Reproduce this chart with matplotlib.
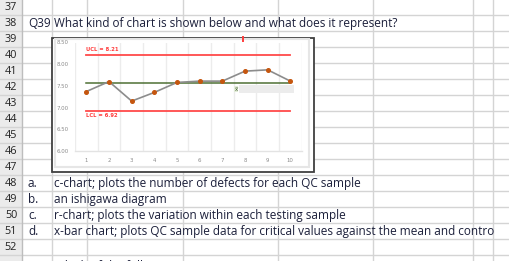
import matplotlib
matplotlib.use("Agg")
import matplotlib.pyplot as plt
from matplotlib.patches import Rectangle

# ---------------- data ----------------
row_numbers = [37, 38, 39, 40, 41, 42, 43, 44, 45, 46, 47, 48, 49, 50, 51, 52, 53]
question_label = "Q39"
question_text = "What kind of chart is shown below and what does it represent?"
next_label = "Q40"
next_text = "Which of the following"
option_labels = ["a.", "b.", "c.", "d."]
option_texts = [
    "c-chart; plots the number of defects for each QC sample",
    "an ishigawa diagram",
    "r-chart; plots the variation within each testing sample",
    "x-bar chart; plots QC sample data for critical values against the mean and contro",
]
samples = [1, 2, 3, 4, 5, 6, 7, 8, 9, 10]
xbar_values = [7.37, 7.60, 7.15, 7.35, 7.58, 7.61, 7.61, 7.84, 7.87, 7.61]
ucl = 8.21
lcl = 6.92
center_line = 7.565
y_ticks = [6.00, 6.50, 7.00, 7.50, 8.00, 8.50]

# ---------------- figure ----------------
W, H = 510, 261
fig = plt.figure(figsize=(W / 100, H / 100), dpi=100)
bg = fig.add_axes([0, 0, 1, 1])
bg.set_xlim(0, W)
bg.set_ylim(H, 0)
bg.axis("off")

grid_c = "#d4d4d4"
txt_c = "#1b1f3a"
font = ["Open Sans", "DejaVu Sans"]

row_bounds = [-0.5 + 15.97 * k for k in range(0, 18)]
col_bounds = [22, 52, 87, 183, 278, 373, 473, 493]

# header column
bg.add_patch(Rectangle((0, -1), 22, H + 2, facecolor="#ebebeb", edgecolor="none", zorder=0))
for y in row_bounds[1:]:
    bg.plot([0, W], [y, y], color=grid_c, lw=1, zorder=1)
for x in col_bounds:
    bg.plot([x, x], [0, H], color=grid_c if x != 22 else "#bdbdbd", lw=1, zorder=1)

def row_center(r):
    i = row_numbers.index(r)
    return (row_bounds[i] + row_bounds[i + 1]) / 2 + 0.5

# row numbers
for rn in row_numbers:
    yoff = 2.5 if rn == 53 else 0
    bg.text(11, row_center(rn) + yoff, str(rn), ha="center", va="center", fontsize=7.8,
            family=font, color="#222222", zorder=3, clip_on=True)

fs = 8.5
bg.text(28, row_center(38), question_label, ha="left", va="center", fontsize=fs, family=font, color=txt_c)
bg.text(54.5, row_center(38), question_text, ha="left", va="center", fontsize=fs, family=font, color=txt_c)
for k, (lab, t) in enumerate(zip(option_labels, option_texts)):
    r = 48 + k
    bg.text(28, row_center(r), lab, ha="left", va="center", fontsize=fs, family=font, color=txt_c, zorder=3)
    bg.text(54.5, row_center(r), t, ha="left", va="center", fontsize=fs, family=font, color=txt_c, zorder=3)
bg.text(28, row_center(53) + 2.5, next_label, ha="left", va="center", fontsize=fs, family=font, color=txt_c, clip_on=True)
bg.text(54.5, row_center(53) + 2.5, next_text, ha="left", va="center", fontsize=fs, family=font, color=txt_c, clip_on=True)

# chart object: white area, outer dark border, inner light frame
bg.add_patch(Rectangle((52, 37.5), 262, 134.5, facecolor="white", edgecolor="#404040", lw=1.3, zorder=4))
bg.add_patch(Rectangle((55.5, 39), 253.5, 128, facecolor="white", edgecolor="#e6e6e6", lw=1.5, zorder=4.1))
# small red mark on top edge
bg.plot([242.7, 242.7], [36.5, 40.5], color="#ff3b3b", lw=1.4, zorder=4.5)

# ---------------- plot area ----------------
left, right = 75, 301.7
top, bottom = 42.5, 151
ax = fig.add_axes([left / W, (H - bottom) / H, (right - left) / W, (bottom - top) / H], zorder=5)
ax.set_facecolor("none")
ax.set_xlim(0.5, 10.5)
ax.set_ylim(6.0, 8.5)

for xb in [s - 0.5 for s in samples] + [samples[-1] + 0.5]:
    ax.axvline(xb, color="#ececec", lw=1.0, zorder=1)

for s in ["top", "right", "left"]:
    ax.spines[s].set_visible(False)
ax.spines["bottom"].set_color("#e3e3e3")
ax.spines["bottom"].set_linewidth(1.0)

ax.set_yticks(y_ticks)
ax.set_yticklabels([f"{v:.2f}" for v in y_ticks])
ax.set_xticks(samples)
ax.set_xticklabels([str(s) for s in samples])
ax.tick_params(axis="both", length=0, labelsize=3.9, colors="#8a8a8a")
ax.tick_params(axis="x", pad=5)
ax.tick_params(axis="y", pad=4.5)

ax.plot([samples[0], samples[-1]], [ucl, ucl], color="#ff4a4a", lw=1.3, zorder=3)
ax.plot([samples[0], samples[-1]], [lcl, lcl], color="#ff4a4a", lw=1.3, zorder=3)
ax.plot([samples[0], samples[-1]], [center_line, center_line], color="#4e7034", lw=1.1, zorder=3)
ax.plot(samples, xbar_values, color="#8c8c8c", lw=1.2, zorder=4,
        marker="o", markersize=2.6, markerfacecolor="#c5560f", markeredgecolor="#c5560f")

ax.text(samples[0], ucl + 0.07, f"UCL = {ucl:.2f}", fontsize=3.8, color="#ff3b3b",
        fontweight="bold", ha="left", va="bottom", zorder=5)
ax.text(samples[0], lcl - 0.05, f"LCL = {lcl:.2f}", fontsize=3.8, color="#ff3b3b",
        fontweight="bold", ha="left", va="top", zorder=5)

# x-bar label with grey box
ax.add_patch(Rectangle((7.75, center_line - 0.24), 2.4, 0.2, facecolor="#ececec",
                       edgecolor="none", zorder=2))
ax.text(7.6, center_line - 0.14, "x\u0305", fontsize=3.8, color="#3e5a2a", ha="center", va="center",
        zorder=5, bbox=dict(boxstyle="square,pad=0.15", facecolor="#e2ecd8", edgecolor="none"))

fig.savefig("out.png", dpi=100)
